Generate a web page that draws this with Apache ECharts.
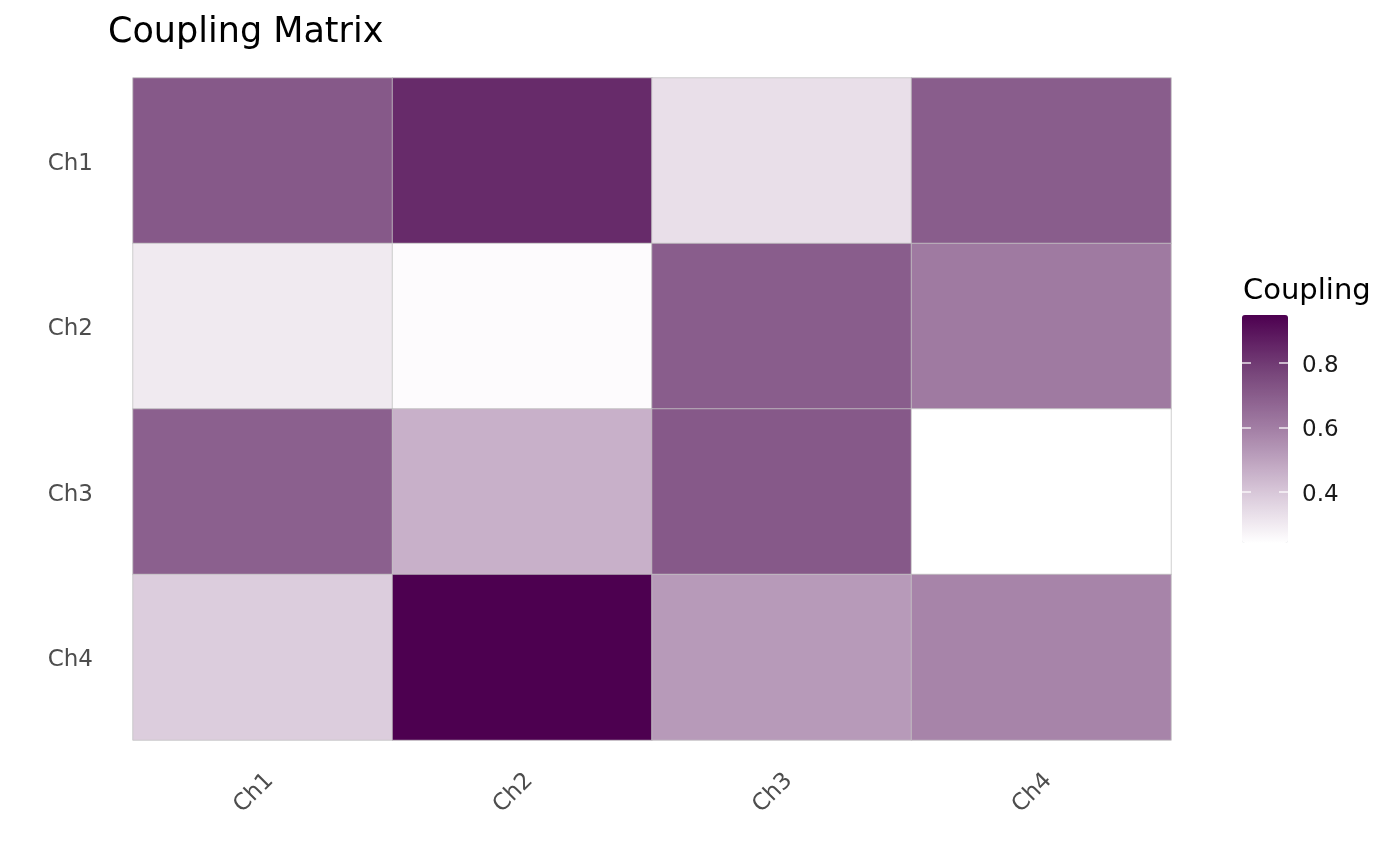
<!DOCTYPE html>
<html>
<head>
<meta charset="utf-8">
<title>Coupling Matrix</title>
<script src="https://cdn.jsdelivr.net/npm/echarts@6/dist/echarts.min.js"></script>
<style>
  html, body { margin: 0; padding: 0; background: #fff; }
  #chart { width: 1400px; height: 866px; }
</style>
</head>
<body>
<div id="chart"></div>
<script>
const channels = ['Ch1', 'Ch2', 'Ch3', 'Ch4'];

// one row per y channel (Ch1 at top), columns follow x channels
const rowCh1 = [0.71, 0.84, 0.33, 0.70];
const rowCh2 = [0.30, 0.25, 0.70, 0.61];
const rowCh3 = [0.69, 0.46, 0.71, 0.24];
const rowCh4 = [0.38, 0.95, 0.52, 0.58];

const legendTicks = [0.4, 0.6, 0.8];

const rows = [rowCh1, rowCh2, rowCh3, rowCh4];
const cells = [];
rows.forEach((row, y) => {
  row.forEach((v, x) => cells.push([x, y, v]));
});
const allValues = rows.flat();
const vMin = Math.min(...allValues);
const vMax = Math.max(...allValues);

const FONT = 'DejaVu Sans';
const TICK_COLOR = 'rgba(255,255,255,0.85)';

// legend bar box, shared by visualMap and the tick axes drawn over it
const bar = { left: 1242, top: 315, width: 46, height: 228 };

function legendAxis(extra) {
  return Object.assign({
    type: 'value',
    gridIndex: 1,
    min: vMin,
    max: vMax,
    axisLine: { show: false },
    splitLine: { show: false },
    axisTick: { show: false },
    axisLabel: { show: false },
    z: 10
  }, extra);
}

const chart = echarts.init(document.getElementById('chart'));

const option = {
  backgroundColor: '#fff',
  animation: false,
  title: [
    {
      text: 'Coupling Matrix',
      left: 103,
      top: 10,
      textStyle: { fontFamily: FONT, fontSize: 35, fontWeight: 'normal', color: '#000' }
    },
    {
      text: 'Coupling',
      left: 1238,
      top: 272,
      textStyle: { fontFamily: FONT, fontSize: 29, fontWeight: 'normal', color: '#000' }
    }
  ],
  grid: [
    { left: 133, top: 78, width: 1038, height: 662 },
    { left: bar.left, top: bar.top, width: bar.width, height: bar.height }
  ],
  xAxis: [
    {
      type: 'category',
      gridIndex: 0,
      data: channels,
      axisLine: { show: false },
      axisTick: { show: false },
      splitLine: { show: false },
      axisLabel: {
        rotate: 45,
        margin: 30,
        fontFamily: FONT,
        fontSize: 23,
        color: '#4D4D4D',
        formatter: (v) => '{t|' + v + '}',
        rich: { t: { fontFamily: FONT, fontSize: 23, color: '#4D4D4D', padding: [20, 0, 0, 0] } }
      }
    },
    {
      type: 'value',
      gridIndex: 1,
      show: false
    }
  ],
  yAxis: [
    {
      type: 'category',
      gridIndex: 0,
      data: channels,
      inverse: true,
      axisLine: { show: false },
      axisTick: { show: false },
      splitLine: { show: false },
      axisLabel: {
        margin: 40,
        fontFamily: FONT,
        fontSize: 23,
        color: '#4D4D4D',
        formatter: (v) => '{t|' + v + '}',
        rich: { t: { fontFamily: FONT, fontSize: 23, color: '#4D4D4D', padding: [6, 0, 0, 0] } }
      }
    },
    // labels to the right of the colour bar
    legendAxis({
      position: 'right',
      axisLabel: {
        customValues: legendTicks,
        margin: 14,
        fontFamily: FONT,
        fontSize: 23,
        color: '#1A1A1A',
        formatter: (v) => '{t|' + v.toFixed(1) + '}',
        rich: { t: { fontFamily: FONT, fontSize: 23, color: '#1A1A1A', padding: [6, 0, 0, 0] } }
      }
    }),
    // white ticks on the left edge of the bar
    legendAxis({
      position: 'left',
      axisTick: {
        show: true, inside: true, length: 9, customValues: legendTicks,
        lineStyle: { color: TICK_COLOR, width: 1.5 }
      }
    }),
    // white ticks on the right edge of the bar
    legendAxis({
      position: 'left',
      offset: -bar.width,
      axisTick: {
        show: true, inside: false, length: 9, customValues: legendTicks,
        lineStyle: { color: TICK_COLOR, width: 1.5 }
      }
    })
  ],
  visualMap: {
    type: 'continuous',
    seriesIndex: 0,
    min: vMin,
    max: vMax,
    calculable: false,
    orient: 'vertical',
    left: bar.left,
    top: bar.top,
    itemWidth: bar.width,
    itemHeight: bar.height,
    padding: 0,
    text: null,
    inRange: {
      color: ['#FFFFFF', '#D3C0D4', '#A37FA5', '#77457A', '#4D0050']
    }
  },
  series: [
    {
      type: 'heatmap',
      xAxisIndex: 0,
      yAxisIndex: 0,
      data: cells,
      label: { show: false },
      itemStyle: { borderColor: 'rgba(195,195,195,0.8)', borderWidth: 1 },
      emphasis: { disabled: true }
    }
  ]
};

chart.setOption(option);
</script>
</body>
</html>
